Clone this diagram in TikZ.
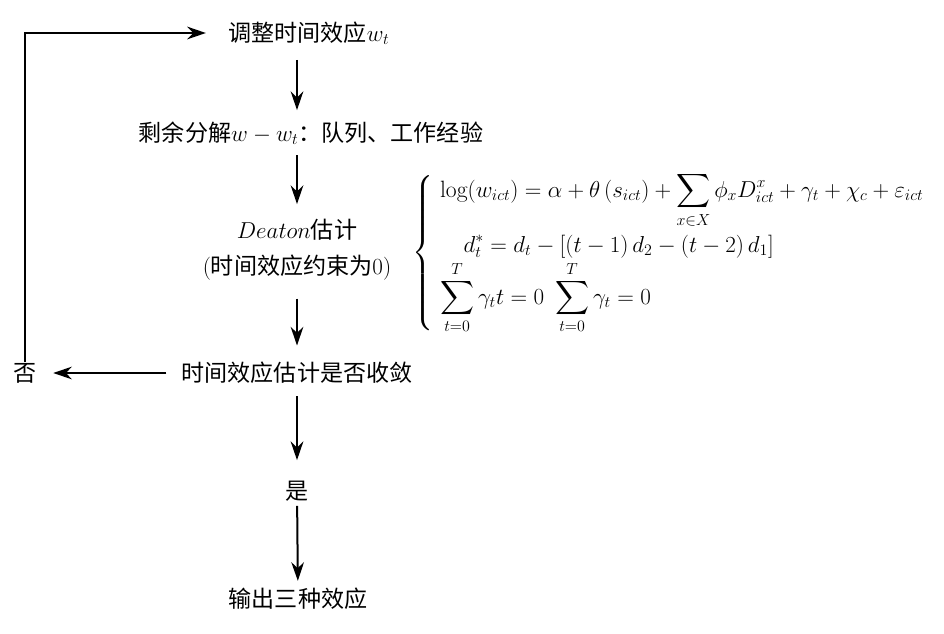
\documentclass[tikz,border=0pt]{standalone}
\usepackage{fontspec}
\usepackage{amsmath}
\usepackage{amssymb}
\usepackage{tikz}
\usetikzlibrary{arrows.meta}
\newfontfamily\cjk{Noto Sans CJK SC}

\begin{document}
\begin{tikzpicture}[x=0.75pt,y=-0.75pt,font=\fontsize{17.3}{27}\selectfont,
    arr/.style={-{Stealth[length=14pt,width=9.5pt]},line width=1.5pt}]
            \useasboundingbox (0,0) rectangle (944,634);
            % Place the steps of the loop
            \node (adj) at (309,33) {{\cjk 调整时间效应}$w_t$};
            \node (res) at (311,133) {{\cjk 剩余分解}$w-w_t${\cjk ：队列、工作经验}};
            \node[align=center] (est) at (297,250) {$Deaton${\cjk 估计}\\({\cjk 时间效应约束为}0)};
            \node (conv) at (297,373) {\cjk 时间效应估计是否收敛};
            \node (yes) at (297,491) {\cjk 是};
            \node (out) at (298,599) {\cjk 输出三种效应};
            \node (no) at (25,373) {\cjk 否};

            % The model next to the estimation
            \node[anchor=west,font=\fontsize{17.7}{27}\selectfont] (model) at (408,253) {$\left\{\;\begin{array}{@{}l@{}}
                \displaystyle\log(w_{ict})=\alpha+\theta\,(s_{ict})+\sum_{x\in X}\phi_x D^x_{ict}+\gamma_t+\chi_c+\varepsilon_{ict}\\[-1pt]
                \displaystyle\quad d_t^*=d_t-[(t-1)\,d_2-(t-2)\,d_1]\\[-1pt]
                \displaystyle\sum_{t=0}^{T}\gamma_t t=0\ \sum_{t=0}^{T}\gamma_t=0
            \end{array}\right.$};

            % The arrows!
            \draw[arr,shorten <=8pt,shorten >=5pt] (adj.south -| conv) -- (res.north -| conv);
            \draw[arr,shorten <=4.5pt,shorten >=8pt] (res.south -| conv) -- (est.north);
            \draw[arr,shorten <=10pt,shorten >=9pt] (est) -- (conv);
            \draw[arr,shorten <=6pt,shorten >=12pt] (conv) -- (yes);
            \draw[arr,shorten <=0pt,shorten >=2pt] (yes) -- (out);
            \draw[arr,shorten <=8pt,shorten >=9pt] (conv) -- (no);
            \draw[arr,shorten <=-3pt,shorten >=13.5pt] (no.north) -- (no.north |- adj) -- (adj.west);
        \end{tikzpicture}
\end{document}
